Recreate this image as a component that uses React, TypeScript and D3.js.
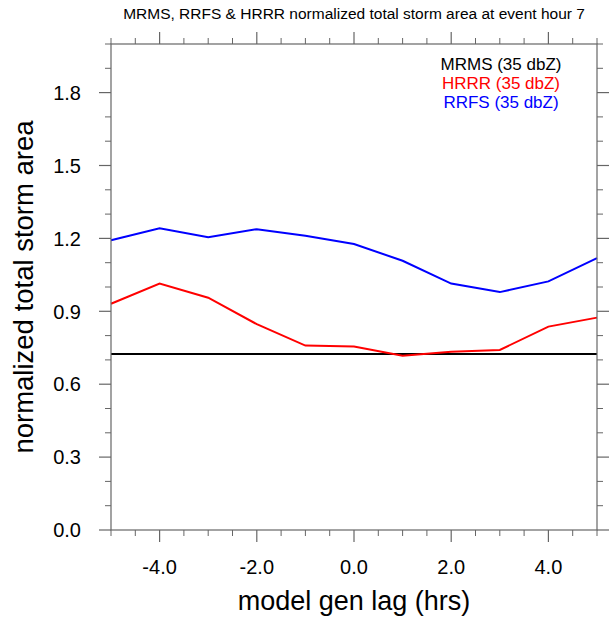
import React from "react";
import * as d3 from "d3";

const lags = [-5, -4, -3, -2, -1, 0, 1, 2, 3, 4, 5];
const rrfs = [1.192, 1.242, 1.205, 1.238, 1.211, 1.177, 1.108, 1.014, 0.979, 1.023, 1.119];
const hrrr = [0.931, 1.014, 0.956, 0.847, 0.759, 0.755, 0.717, 0.734, 0.741, 0.837, 0.874];
const mrms = [0.724, 0.724, 0.724, 0.724, 0.724, 0.724, 0.724, 0.724, 0.724, 0.724, 0.724];
const xMajorTicks = [-4, -2, 0, 2, 4];
const yMajorTicks = [0, 0.3, 0.6, 0.9, 1.2, 1.5, 1.8];
const legendLabels = ["MRMS (35 dbZ)", "HRRR (35 dbZ)", "RRFS (35 dbZ)"];
const titleText = "MRMS, RRFS & HRRR normalized total storm area at event hour 7";

const W = 610;
const H = 619;
const M = { left: 111, right: 597, top: 44, bottom: 530 };
const FONT = "'Liberation Sans', Arial, Helvetica, sans-serif";

export default function App() {
  const x = d3.scaleLinear().domain([-5, 5]).range([M.left, M.right]);
  const y = d3.scaleLinear().domain([0, 2]).range([M.bottom, M.top]);
  const xMinor = d3.range(-5, 5.001, 0.5).filter((v) => !xMajorTicks.some((t) => Math.abs(t - v) < 1e-6));
  const yMinor = d3.range(0, 2.001, 0.1).filter((v) => !yMajorTicks.some((t) => Math.abs(t - v) < 1e-6));
  const line = d3
    .line<number>()
    .x((_, i) => x(lags[i]))
    .y((d) => y(d));
  const series = [
    { vals: mrms, color: "#000000" },
    { vals: hrrr, color: "#ff0000" },
    { vals: rrfs, color: "#0000ff" },
  ];
  const axisColor = "#666";
  const majorLen = 12;
  const minorLen = 6;
  return (
    <svg width={W} height={H} style={{ position: "absolute", left: 0, top: 0 }} fontFamily={FONT}>
      <rect x={0} y={0} width={W} height={H} fill="#fff" />
      <text x={(M.left + M.right) / 2} y={19} textAnchor="middle" fontSize={15.5} fill="#000">
        {titleText}
      </text>
      {series.map((s, i) => (
        <path key={i} d={line(s.vals) || ""} fill="none" stroke={s.color} strokeWidth={2} />
      ))}
      {/* frame */}
      <rect x={M.left} y={M.top} width={M.right - M.left} height={M.bottom - M.top} fill="none" stroke={axisColor} strokeWidth={1.2} />
      {/* x ticks bottom & top */}
      {xMajorTicks.map((t) => (
        <g key={"xm" + t}>
          <line x1={x(t)} x2={x(t)} y1={M.bottom} y2={M.bottom + majorLen} stroke={axisColor} strokeWidth={1.2} />
          <line x1={x(t)} x2={x(t)} y1={M.top} y2={M.top - majorLen} stroke={axisColor} strokeWidth={1.2} />
          <text x={x(t)} y={574} textAnchor="middle" fontSize={20} fill="#000">
            {d3.format(".1f")(t).replace("−", "-")}
          </text>
        </g>
      ))}
      {xMinor.map((t) => (
        <g key={"xn" + t}>
          <line x1={x(t)} x2={x(t)} y1={M.bottom} y2={M.bottom + minorLen} stroke={axisColor} strokeWidth={1} />
          <line x1={x(t)} x2={x(t)} y1={M.top} y2={M.top - minorLen} stroke={axisColor} strokeWidth={1} />
        </g>
      ))}
      {yMajorTicks.map((t) => (
        <g key={"ym" + t}>
          <line x1={M.left} x2={M.left - majorLen} y1={y(t)} y2={y(t)} stroke={axisColor} strokeWidth={1.2} />
          <line x1={M.right} x2={M.right + majorLen} y1={y(t)} y2={y(t)} stroke={axisColor} strokeWidth={1.2} />
          <text x={81} y={y(t)} dy="0.36em" textAnchor="end" fontSize={20} fill="#000">
            {d3.format(".1f")(t)}
          </text>
        </g>
      ))}
      {yMinor.map((t) => (
        <g key={"yn" + t}>
          <line x1={M.left} x2={M.left - minorLen} y1={y(t)} y2={y(t)} stroke={axisColor} strokeWidth={1} />
          <line x1={M.right} x2={M.right + minorLen} y1={y(t)} y2={y(t)} stroke={axisColor} strokeWidth={1} />
        </g>
      ))}
      <text x={(M.left + M.right) / 2} y={610} textAnchor="middle" fontSize={27} fill="#000">
        model gen lag (hrs)
      </text>
      <text
        transform={`translate(33, ${(M.top + M.bottom) / 2}) rotate(-90)`}
        textAnchor="middle"
        fontSize={27.5}
        fill="#000"
      >
        normalized total storm area
      </text>
      {legendLabels.map((l, i) => (
        <text key={l} x={501} y={70 + i * 19.2} textAnchor="middle" fontSize={17} fill={series[i].color}>
          {l}
        </text>
      ))}
    </svg>
  );
}
